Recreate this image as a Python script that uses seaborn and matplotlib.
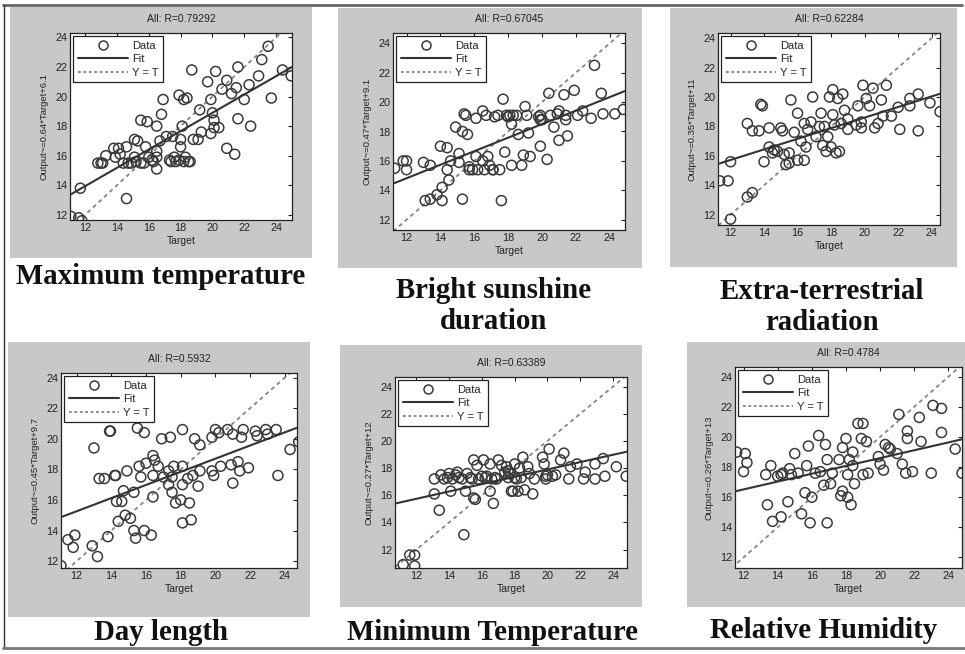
import numpy as np
import pandas as pd
import matplotlib
matplotlib.use("Agg")
import matplotlib.pyplot as plt
import seaborn as sns
from matplotlib.patches import Rectangle
from matplotlib.lines import Line2D

# ---------------- data ----------------
titles = ["All: R=0.79292", "All: R=0.67045", "All: R=0.62284",
          "All: R=0.5932", "All: R=0.63389", "All: R=0.4784"]
ylabels = ["Output~=0.64*Target+6.1", "Output~=0.47*Target+9.1",
           "Output~=0.35*Target+11", "Output~=0.45*Target+9.7",
           "Output~=0.27*Target+12", "Output~=0.26*Target+13"]
captions = ["Maximum temperature", "Bright sunshine\nduration",
            "Extra-terrestrial\nradiation", "Day length",
            "Minimum Temperature", "Relative Humidity"]
fit_slope = [0.62, 0.46, 0.36, 0.43, 0.27, 0.26]
fit_intercept = [6.5, 9.3, 11.4, 10.1, 12.5, 13.4]
tick_values = [12, 14, 16, 18, 20, 22, 24]

t1 = [11.1, 11.6, 11.8, 11.7, 14.6, 12.8, 13.0, 13.3, 13.8, 13.9, 14.1, 14.2, 14.6, 14.7, 15.1,
      15.1, 15.3, 15.5, 15.7, 15.8, 16.0, 15.5, 15.9, 16.3, 16.5, 16.5, 16.5, 16.5, 16.7, 16.8,
      16.9, 17.1, 17.4, 17.5, 17.6, 17.7, 17.9, 18.0, 18.0, 18.1, 18.2, 18.4, 18.5, 18.3, 18.6,
      18.7, 18.8, 19.1, 19.2, 19.3, 19.7, 19.9, 19.9, 20.0, 20.1, 20.1, 20.2, 20.4, 20.6, 20.9,
      20.9, 21.2, 21.4, 21.5, 21.6, 21.6, 22.0, 22.3, 22.4, 22.9, 23.1, 23.5, 23.7, 24.4, 24.95,
      13.1, 14.4, 14.9, 15.2, 16.2, 17.3, 17.9, 18.2]
o1 = [11.9, 11.8, 11.6, 13.8, 13.1, 15.5, 15.5, 16.0, 16.5, 15.9, 16.5, 16.1, 16.6, 15.5, 15.9,
      17.1, 17.0, 15.5, 15.5, 16.6, 15.9, 18.4, 18.3, 15.6, 15.9, 16.3, 15.1, 18.0, 17.0, 18.8,
      19.8, 17.3, 15.6, 17.3, 15.9, 15.6, 20.1, 17.1, 16.6, 18.0, 19.8, 19.9, 15.6, 15.9, 15.6,
      21.8, 17.1, 17.1, 19.1, 17.6, 21.0, 19.8, 17.5, 18.9, 17.9, 18.4, 21.7, 17.9, 20.5, 21.1,
      16.5, 20.2, 16.1, 20.6, 22.0, 18.5, 19.8, 20.8, 18.0, 21.4, 22.5, 23.4, 19.9, 21.8, 21.4,
      15.5, 15.5, 15.5, 15.6, 15.7, 15.7, 15.7, 15.6]

t2 = [11.3, 11.8, 12.0, 12.0, 13.0, 13.4, 13.1, 13.4, 13.8, 14.1, 14.1, 14.0, 14.4, 14.4, 14.5,
      14.6, 14.9, 15.1, 15.1, 15.3, 15.4, 15.3, 15.6, 15.7, 15.7, 16.1, 16.1, 16.2, 16.5, 16.5,
      16.6, 16.8, 16.7, 16.9, 17.1, 17.4, 17.5, 17.6, 17.7, 17.8, 17.9, 18.1, 18.2, 18.2, 18.5,
      18.6, 18.8, 18.9, 19.0, 19.1, 19.2, 19.3, 19.9, 19.9, 19.9, 20.3, 20.4, 20.5, 20.7, 21.0,
      21.0, 21.3, 21.4, 21.4, 21.5, 21.9, 22.1, 22.4, 22.9, 23.1, 23.5, 23.6, 24.3, 24.8,
      15.5, 17.2, 18.0, 18.3, 19.8, 20.0, 20.9, 17.1, 15.9]
o2 = [15.5, 16.0, 16.0, 15.4, 15.9, 15.7, 13.3, 13.4, 13.7, 13.3, 14.2, 17.0, 16.9, 15.4, 14.7,
      16.0, 18.3, 15.9, 16.5, 18.0, 19.2, 13.4, 17.8, 15.6, 15.4, 18.9, 16.3, 15.4, 19.4, 16.0,
      15.4, 16.3, 19.1, 15.7, 15.4, 19.1, 15.4, 13.3, 20.2, 16.6, 19.1, 19.1, 18.5, 15.7, 19.1,
      17.8, 15.7, 16.4, 19.7, 19.1, 17.9, 16.3, 19.1, 18.8, 17.0, 16.1, 20.6, 19.1, 18.3, 19.4,
      17.4, 20.5, 19.1, 18.8, 17.7, 20.8, 19.1, 19.4, 18.9, 22.5, 20.6, 19.2, 19.2, 19.5,
      19.1, 19.0, 19.0, 19.1, 19.0, 18.8, 19.2, 15.4, 15.4]

t3 = [11.35, 11.85, 12.0, 12.0, 13.0, 13.3, 13.0, 13.3, 13.7, 13.8, 13.9, 14.0, 14.3, 14.3, 14.5,
      14.6, 14.8, 15.0, 15.1, 15.2, 15.3, 15.5, 15.5, 15.6, 15.8, 16.0, 16.0, 16.2, 16.4, 16.4,
      16.5, 16.6, 16.8, 16.9, 17.1, 17.3, 17.4, 17.5, 17.6, 17.7, 17.8, 17.9, 18.0, 18.1, 18.1,
      18.2, 18.3, 18.4, 18.5, 18.6, 18.7, 18.8, 19.0, 19.0, 19.5, 19.6, 19.8, 19.8, 19.9, 20.1,
      20.3, 20.5, 20.6, 20.8, 21.0, 21.1, 21.3, 21.6, 22.0, 22.1, 22.7, 22.7, 23.2, 23.2, 23.9,
      24.5]
o3 = [14.3, 14.3, 15.6, 11.7, 13.2, 13.5, 18.2, 17.7, 17.7, 19.5, 19.4, 15.6, 17.9, 16.6, 16.2,
      16.4, 16.3, 17.9, 17.7, 16.1, 15.4, 15.5, 16.2, 19.8, 17.6, 15.7, 18.9, 17.0, 15.7, 18.2,
      16.6, 17.8, 18.3, 20.0, 17.3, 18.0, 18.9, 16.7, 18.0, 16.3, 17.3, 20.0, 16.6, 18.8, 20.5,
      18.1, 16.2, 19.9, 16.3, 18.2, 20.2, 19.1, 17.8, 18.5, 18.1, 19.4, 17.9, 18.3, 20.8, 19.9,
      19.4, 20.6, 17.9, 18.2, 19.8, 18.7, 20.8, 18.7, 19.3, 17.8, 19.4, 19.9, 20.2, 17.7, 19.6,
      19.0]

t4 = [11.1, 11.5, 11.9, 11.8, 12.9, 13.2, 13.0, 13.3, 13.6, 13.8, 13.9, 13.95, 14.2, 14.25, 14.3,
      14.4, 14.6, 14.7, 14.9, 14.8, 15.1, 15.3, 15.3, 15.4, 15.5, 15.6, 15.7, 15.9, 15.9, 16.0,
      16.3, 16.4, 16.5, 16.4, 16.4, 16.7, 16.9, 17.0, 17.3, 17.3, 17.4, 17.5, 17.5, 17.6, 17.7,
      18.0, 18.1, 18.1, 18.1, 18.1, 18.4, 18.5, 18.6, 18.7, 18.8, 19.0, 19.1, 19.1, 19.8, 19.8,
      19.9, 20.0, 20.2, 20.3, 20.7, 20.9, 21.0, 21.0, 21.3, 21.5, 21.6, 21.4, 21.9, 22.3, 22.4,
      22.9, 23.0, 23.5, 23.6, 24.3, 24.8]
o4 = [11.7, 13.4, 13.7, 12.9, 13.0, 12.3, 19.4, 17.4, 17.4, 13.6, 20.5, 20.5, 17.6, 17.6, 15.9,
      14.6, 15.9, 16.6, 17.9, 15.0, 14.8, 16.5, 14.0, 13.5, 20.7, 18.2, 17.5, 20.4, 14.0, 18.4,
      13.7, 18.9, 18.6, 16.2, 17.6, 18.2, 20.0, 17.5, 17.9, 17.0, 20.1, 17.5, 16.5, 18.2, 15.8,
      16.0, 17.0, 18.2, 20.6, 14.5, 17.4, 15.8, 14.7, 17.6, 20.0, 16.9, 17.9, 19.6, 20.1, 17.9,
      17.6, 20.6, 20.4, 18.2, 20.6, 18.3, 17.1, 20.3, 18.5, 20.1, 20.6, 17.9, 18.1, 20.5, 20.2,
      20.6, 20.3, 20.6, 17.6, 19.3, 19.8]

t5 = [11.2, 11.6, 11.9, 11.9, 13.1, 13.1, 13.4, 13.5, 13.7, 14.0, 14.1, 14.2, 14.4, 14.5, 14.8,
      14.9, 15.0, 15.1, 15.4, 15.5, 15.6, 15.7, 15.8, 16.0, 16.1, 16.3, 16.5, 16.5, 16.6, 16.7,
      16.9, 17.0, 17.2, 17.4, 17.5, 17.7, 17.8, 18.0, 18.1, 18.2, 18.3, 18.5, 18.6, 18.8, 18.9,
      19.1, 19.2, 19.7, 19.8, 19.9, 20.0, 20.1, 20.5, 20.8, 21.0, 21.3, 21.4, 21.8, 22.2, 22.3,
      22.9, 22.9, 23.4, 23.5, 24.2, 24.8,
      13.9, 14.6, 15.3, 16.2, 16.8, 17.6, 18.0, 18.4, 19.9, 20.3, 17.6, 15.5, 17.9]
o5 = [10.9, 11.6, 11.6, 10.8, 16.1, 17.2, 14.9, 17.5, 17.2, 17.6, 16.3, 17.2, 17.5, 17.7, 17.2,
      13.1, 16.3, 17.6, 17.2, 18.6, 15.7, 18.2, 17.2, 17.4, 18.6, 17.4, 16.3, 18.3, 17.2, 15.4,
      17.2, 18.6, 18.2, 17.7, 18.1, 17.6, 16.3, 18.3, 17.2, 16.3, 18.0, 18.8, 16.4, 18.1, 17.6,
      16.1, 17.2, 18.8, 18.3, 17.2, 17.5, 19.4, 17.5, 18.6, 19.1, 17.2, 18.1, 18.3, 17.2, 17.7,
      17.2, 18.3, 18.7, 17.4, 18.1, 17.4,
      17.3, 17.3, 17.3, 17.3, 17.3, 17.3, 17.3, 17.3, 17.4, 17.4, 17.8, 15.8, 16.3]

t6 = [11.6, 12.1, 12.0, 12.2, 13.3, 13.6, 13.4, 13.7, 14.2, 14.0, 14.2, 14.3, 14.6, 14.7, 14.8,
      15.0, 15.2, 15.4, 15.6, 15.7, 15.8, 16.0, 15.9, 16.2, 16.4, 16.5, 16.7, 16.8, 16.9, 16.9,
      17.1, 17.2, 17.6, 17.7, 17.8, 17.8, 18.0, 18.1, 18.1, 18.2, 18.3, 18.4, 18.4, 18.5, 18.7,
      19.0, 18.9, 19.0, 19.2, 19.3, 19.9, 20.0, 20.2, 20.3, 20.5, 20.6, 21.0, 21.1, 21.3, 21.5,
      21.6, 21.6, 21.9, 22.3, 22.4, 23.0, 23.1, 23.6, 23.6, 24.4, 24.8]
o6 = [19.0, 18.9, 17.7, 18.3, 17.5, 18.1, 15.5, 14.4, 14.7, 17.4, 17.5, 17.6, 15.7, 17.9, 17.5,
      18.9, 17.6, 14.9, 16.3, 18.1, 19.4, 16.0, 14.3, 17.6, 20.1, 17.7, 16.8, 19.5, 18.5, 14.3,
      16.9, 17.6, 18.5, 16.1, 16.4, 19.3, 19.9, 16.0, 17.5, 18.5, 15.5, 19.0, 18.1, 16.9, 20.9,
      20.9, 19.9, 17.5, 19.7, 17.6, 18.7, 18.2, 17.8, 19.5, 19.3, 19.2, 18.9, 21.5, 18.2, 17.6,
      20.4, 19.9, 17.7, 21.3, 19.7, 17.6, 22.1, 21.9, 20.3, 19.2, 17.6]

targets = [t1, t2, t3, t4, t5, t6]
outputs = [o1, o2, o3, o4, o5, o6]

# ---------------- layout (pixels) ----------------
W, H = 965, 654
grey_boxes = [(10, 7, 312, 258), (338, 8, 642, 268), (670, 8, 957, 267),
              (8, 342, 310, 617), (340, 345, 642, 607), (687, 342, 965, 607)]
axes_boxes = [(70, 33, 292, 220), (393, 33, 625, 230), (718, 33, 940, 225),
              (61, 373, 297, 568), (395, 377, 627, 568), (735, 367, 962, 568)]
xlims = [(11.05, 25.0), (11.2, 24.9), (11.25, 24.5), (11.1, 24.7), (10.7, 24.85), (11.5, 24.8)]
ylims = [(11.65, 24.3), (11.3, 24.7), (11.3, 24.35), (11.55, 24.3), (10.65, 24.7), (11.3, 24.65)]
caption_pos = [(161, 277), (494, 306), (822, 307), (161, 632), (493, 632), (824, 630)]

sns.set_theme(style="white")
plt.rcParams["font.family"] = ["Liberation Sans", "DejaVu Sans"]

fig = plt.figure(figsize=(W / 100, H / 100), dpi=100)
fig.patch.set_facecolor("white")

# outer frame lines
fig.add_artist(Line2D([3 / W, 962 / W], [1 - 5 / H, 1 - 5 / H], color="#666666", lw=2.0))
fig.add_artist(Line2D([4 / W, 4 / W], [1 - 5 / H, 1 - 648 / H], color="#333333", lw=1.0))
fig.add_artist(Line2D([3 / W, 965 / W], [1 - 648 / H, 1 - 648 / H], color="#777777", lw=2.0))

grey = "#c8c8c8"
ink = "#3a3a3a"

for i in range(6):
    gx0, gy0, gx1, gy1 = grey_boxes[i]
    fig.add_artist(Rectangle((gx0 / W, 1 - gy1 / H), (gx1 - gx0) / W, (gy1 - gy0) / H,
                             transform=fig.transFigure, facecolor=grey, edgecolor="none",
                             zorder=0))
    ax0, ay0, ax1, ay1 = axes_boxes[i]
    ax = fig.add_axes([ax0 / W, 1 - ay1 / H, (ax1 - ax0) / W, (ay1 - ay0) / H])
    ax.set_facecolor("white")

    df = pd.DataFrame({"Target": targets[i], "Output": outputs[i]})
    sns.scatterplot(data=df, x="Target", y="Output", ax=ax, marker="o",
                    s=52, facecolors="none", edgecolor=ink, linewidth=1.1, zorder=3,
                    legend=False)

    xl, yl = xlims[i], ylims[i]
    lo, hi = min(xl[0], yl[0]) - 1, max(xl[1], yl[1]) + 1
    xs = np.array([xl[0], xl[1]])
    ax.plot(xs, fit_slope[i] * xs + fit_intercept[i], color="#333333", lw=1.5, zorder=4)
    ax.plot([lo, hi], [lo, hi], color="#858585", lw=1.3, ls=(0, (2.2, 2.0)), zorder=2)

    ax.set_xlim(*xl)
    ax.set_ylim(*yl)
    ax.set_xticks(tick_values)
    ax.set_yticks(tick_values)
    ax.tick_params(direction="in", length=3, width=0.8, top=True, right=True,
                   labelsize=7.8, colors="#222222", pad=2)
    for sp in ax.spines.values():
        sp.set_color("#222222")
        sp.set_linewidth(0.9)
    ax.set_xlabel("Target", fontsize=7.5, color="#222222", labelpad=2)
    ax.set_ylabel(ylabels[i], fontsize=6.8, color="#222222", labelpad=5)
    ax.set_title(titles[i], fontsize=7.5, color="#222222", pad=8)

    handles = [Line2D([], [], ls="none", marker="o", mfc="none", mec=ink, ms=6.5, mew=1.1),
               Line2D([], [], color="#333333", lw=1.5),
               Line2D([], [], color="#808080", lw=1.3, ls=(0, (1.5, 1.5)))]
    leg = ax.legend(handles, ["Data", "Fit", "Y = T"], loc="upper left", fontsize=8,
                    frameon=True, fancybox=False, edgecolor="#222222", framealpha=1,
                    handlelength=4.5, handletextpad=0.4, borderpad=0.4, labelspacing=0.32,
                    borderaxespad=0.3)
    leg.get_frame().set_linewidth(0.9)

    cx, cy = caption_pos[i]
    fig.text(cx / W, 1 - cy / H, captions[i], ha="center", va="center", fontsize=20.8,
             fontweight="bold", family=["Liberation Serif", "DejaVu Serif"],
             color="#111111", linespacing=1.2)

fig.savefig("out.png", dpi=100, facecolor="white")
